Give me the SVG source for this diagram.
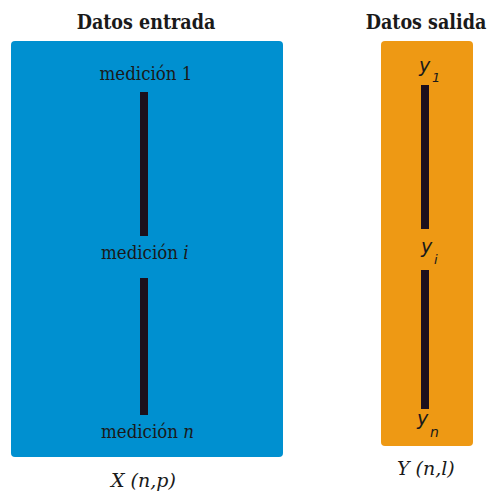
<svg xmlns="http://www.w3.org/2000/svg" width="487" height="495" viewBox="0 0 487 495">
  <style>
    .title { font-family: "DejaVu Serif", "Liberation Serif", serif; font-stretch: condensed; font-weight: bold; font-size: 19.5px; fill: #1a1a1a; text-anchor: middle; }
    .lbl { font-family: "DejaVu Serif", "Liberation Serif", serif; font-stretch: condensed; font-size: 18.5px; fill: #1a1a1a; }
    .cap { font-family: "DejaVu Serif", "Liberation Serif", serif; font-style: italic; font-size: 19px; fill: #1a1a1a; }
    .it { font-style: italic; }
    .var { font-family: "DejaVu Sans", "Open Sans", sans-serif; font-style: italic; fill: #1a1a1a; }
    .bar { fill: #1c0f1c; }
  </style>
  <rect width="487" height="495" fill="#ffffff"/>

  <text class="title" x="146" y="29">Datos entrada</text>
  <text class="title" x="426" y="29">Datos salida</text>

  <g id="entrada">
    <rect x="11" y="41" width="272" height="416" rx="4" fill="#0090d0"/>
    <text class="lbl" x="146" y="80" text-anchor="middle">medición 1</text>
    <text class="lbl" x="101" y="259">medición <tspan class="it">i</tspan></text>
    <text class="lbl" x="101" y="438">medición <tspan class="it">n</tspan></text>
  </g>

  <g id="salida">
    <rect x="381" y="41" width="92" height="405" rx="4" fill="#ee9914"/>
    <text class="var" x="419" y="72" font-size="19">y</text>
    <text class="var" x="432" y="82" font-size="13">1</text>
    <text class="var" x="421" y="253" font-size="19">y</text>
    <text class="var" x="434" y="264" font-size="13">i</text>
    <text class="var" x="417" y="425" font-size="19">y</text>
    <text class="var" x="430" y="437" font-size="14">n</text>
  </g>

  <g id="connectors">
    <rect class="bar" x="140" y="92" width="8" height="144"/>
    <rect class="bar" x="140" y="278" width="8" height="137"/>
    <rect class="bar" x="421" y="85" width="8" height="144"/>
    <rect class="bar" x="421" y="270" width="8" height="139"/>
  </g>

  <text class="cap" x="111" y="487">X (n,p)</text>
  <text class="cap" x="397" y="475">Y (n,l)</text>
</svg>
